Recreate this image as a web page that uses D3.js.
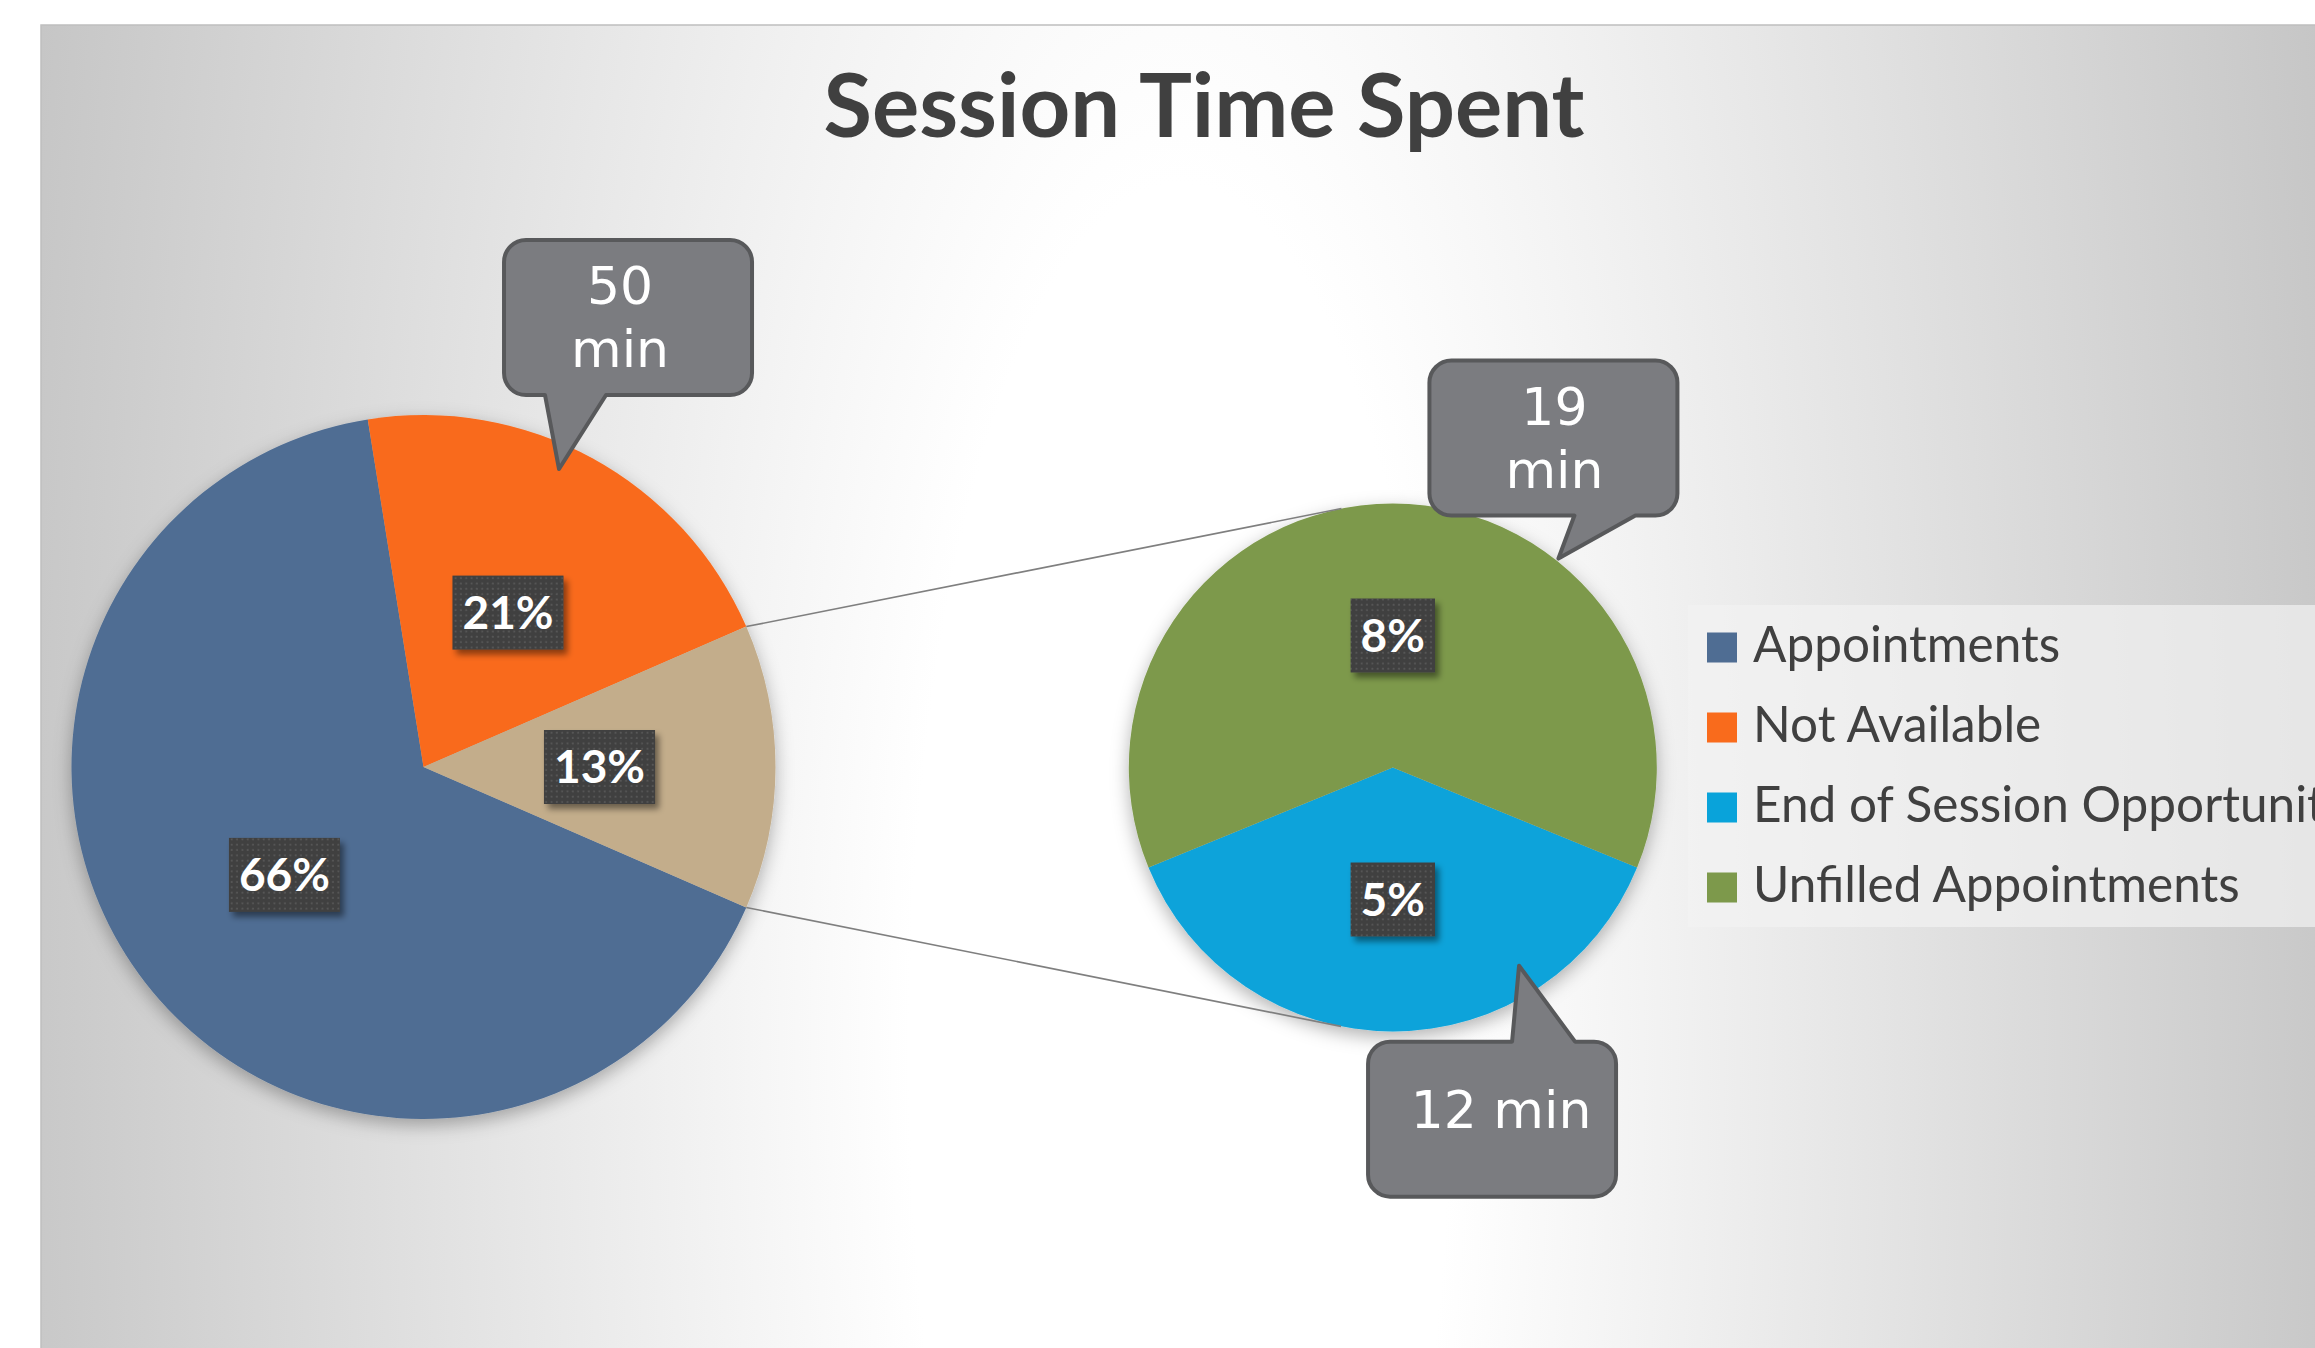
<!DOCTYPE html>
<html><head><meta charset="utf-8">
<script src="https://cdn.jsdelivr.net/npm/d3@7"></script>
<style>html,body{margin:0;padding:0;background:#fff;overflow:hidden}</style>
</head><body>
<svg id="c" width="2315" height="1348"></svg>
<script>
// ---- data ----
const title = "Session Time Spent";
const categories = ["Appointments", "Not Available", "End of Session Opportunity", "Unfilled Appointments"];
const minutes = [157, 50, 11.7, 19.4];          // minutes per category
const colors = ["#4F6D93", "#F96B1C", "#09A3DA", "#7D994B"];
const otherColor = "#C3AD8B";
const mainIdx = [0, 1];        // slices in the main pie
const secondIdx = [2, 3];      // slices split into the second pie
const minuteCallouts = [1, 3, 2]; // categories that carry a "min" callout

// ---- layout ----
const W = 2315, H = 1348;
const svg = d3.select("#c");
const defs = svg.append("defs");

const gcx = 1180, gcy = 1050;
const grad = defs.append("radialGradient").attr("id", "bg")
  .attr("gradientUnits", "userSpaceOnUse")
  .attr("cx", gcx).attr("cy", gcy).attr("r", 1230)
  .attr("gradientTransform", `translate(${gcx},${gcy}) scale(1,3.2) translate(${-gcx},${-gcy})`);
grad.append("stop").attr("offset", "0%").attr("stop-color", "#ffffff");
grad.append("stop").attr("offset", "22%").attr("stop-color", "#ffffff");
grad.append("stop").attr("offset", "100%").attr("stop-color", "#c3c3c3");

const ps = defs.append("filter").attr("id", "pieShadow")
  .attr("x", "-20%").attr("y", "-20%").attr("width", "140%").attr("height", "140%");
ps.append("feDropShadow").attr("dx", 0).attr("dy", 6).attr("stdDeviation", 9)
  .attr("flood-color", "#000").attr("flood-opacity", 0.3);

const bs = defs.append("filter").attr("id", "boxShadow")
  .attr("x", "-30%").attr("y", "-30%").attr("width", "160%").attr("height", "160%");
bs.append("feDropShadow").attr("dx", 4).attr("dy", 5).attr("stdDeviation", 3)
  .attr("flood-color", "#000").attr("flood-opacity", 0.45);

const pat = defs.append("pattern").attr("id", "dots").attr("patternUnits", "userSpaceOnUse")
  .attr("width", 5.33).attr("height", 5.33);
pat.append("rect").attr("width", 5.33).attr("height", 5.33).attr("fill", "#404040");
pat.append("rect").attr("x", 1.6).attr("y", 1.6).attr("width", 1.8).attr("height", 1.8).attr("fill", "#585858");

// chart area
svg.append("rect").attr("x", 41).attr("y", 25).attr("width", 2400).attr("height", 1400)
  .attr("fill", "url(#bg)").attr("stroke", "#bfbfbf").attr("stroke-width", 1.5);

// title
svg.append("text").attr("x", 1204).attr("y", 137).attr("text-anchor", "middle")
  .attr("font-family", "Lato").attr("font-weight", 700).attr("font-size", 88.5)
  .attr("fill", "#404040").text(title);

// pies
const L = {cx: 423.5, cy: 767, r: 352};
const R = {cx: 1392.8, cy: 767.5, r: 352 * 0.75};

const total = d3.sum(minutes);
const otherVal = d3.sum(secondIdx, i => minutes[i]);
const mainData = mainIdx.map(i => ({v: minutes[i], color: colors[i], cat: i}))
  .concat([{v: otherVal, color: otherColor, cat: -1}]);
const secData = secondIdx.map(i => ({v: minutes[i], color: colors[i], cat: i}));

const otherAng = 2 * Math.PI * otherVal / total;
const startL = Math.PI / 2 + otherAng / 2;
const pieL = d3.pie().sort(null).value(d => d.v).startAngle(startL).endAngle(startL + 2 * Math.PI);
const arcsL = pieL(mainData);

const firstSecAng = 2 * Math.PI * secData[0].v / otherVal;
const startR = Math.PI - firstSecAng / 2;
const pieR = d3.pie().sort(null).value(d => d.v).startAngle(startR).endAngle(startR + 2 * Math.PI);
const arcsR = pieR(secData);

function drawPie(P, arcs) {
  const g = svg.append("g").attr("transform", `translate(${P.cx},${P.cy})`).attr("filter", "url(#pieShadow)");
  const arc = d3.arc().innerRadius(0).outerRadius(P.r);
  g.selectAll("path").data(arcs).join("path").attr("d", arc).attr("fill", d => d.data.color);
}
drawPie(L, arcsL);
drawPie(R, arcsR);

const polar = (P, a, rr) => [P.cx + rr * Math.sin(a), P.cy - rr * Math.cos(a)];

// series lines (from "other" slice edges, tangent to second pie)
const otherArc = arcsL[2];
function tangent(p, C, r, dir) {
  const dx = p[0] - C.cx, dy = p[1] - C.cy, d = Math.hypot(dx, dy);
  const ux = dx / d, uy = dy / d, phi = Math.acos(r / d) * dir;
  const c = Math.cos(phi), s = Math.sin(phi);
  return [C.cx + r * (c * ux - s * uy), C.cy + r * (s * ux + c * uy)];
}
const pTop = polar(L, otherArc.startAngle, L.r), pBot = polar(L, otherArc.endAngle, L.r);
[[pTop, tangent(pTop, R, R.r, 1)], [pBot, tangent(pBot, R, R.r, -1)]].forEach(([a, b]) => {
  svg.append("line").attr("x1", a[0]).attr("y1", a[1]).attr("x2", b[0]).attr("y2", b[1])
    .attr("stroke", "#7f7f7f").attr("stroke-width", 1.6);
});

// percentage labels
function pctLabels(P, arcs) {
  arcs.forEach(d => {
    const m = (d.startAngle + d.endAngle) / 2;
    const [x, y] = polar(P, m, P.r * 0.5);
    const g = svg.append("g");
    const t = g.append("text").attr("x", x).attr("y", y + 16).attr("text-anchor", "middle")
      .attr("font-family", "Lato").attr("font-weight", 700).attr("font-size", 46)
      .attr("fill", "#fff").text(Math.round(d.data.v / total * 100) + "%");
    const w = t.node().getComputedTextLength() + 20;
    g.insert("rect", "text").attr("x", x - w / 2).attr("y", y - 37).attr("width", w).attr("height", 74)
      .attr("fill", "url(#dots)").attr("filter", "url(#boxShadow)");
  });
}
pctLabels(L, arcsL);
pctLabels(R, arcsR);

// minute callouts
const calloutLayout = [
  {P: L, arcs: arcsL, slice: 1, frac: 0.444, rf: 0.93, box: [-55, -229], base: [-14, 47], side: "bottom", wrap: true, tx: 116, ty: 64},
  {P: R, arcs: arcsR, slice: 1, frac: 0.671, rf: 1.01, box: [-129, -198], base: [16, 77], side: "bottom", wrap: true, tx: 125, ty: 64},
  {P: R, arcs: arcsR, slice: 0, frac: 0.26, rf: 0.89, box: [-151, 76], base: [-7, 56], side: "top", wrap: false, tx: 133, ty: 86}
];
const BW = 248, BH = 155, CR = 22;
calloutLayout.forEach((c, k) => {
  const a = c.arcs[c.slice];
  const ang = a.startAngle + (a.endAngle - a.startAngle) * c.frac;
  const [tx, ty] = polar(c.P, ang, c.P.r * c.rf);
  const x = tx + c.box[0], y = ty + c.box[1], b1 = tx + c.base[0], b2 = tx + c.base[1];
  const p = d3.path();
  p.moveTo(x + CR, y);
  if (c.side === "top") { p.lineTo(b1, y); p.lineTo(tx, ty); p.lineTo(b2, y); }
  p.lineTo(x + BW - CR, y);
  p.arcTo(x + BW, y, x + BW, y + CR, CR);
  p.lineTo(x + BW, y + BH - CR);
  p.arcTo(x + BW, y + BH, x + BW - CR, y + BH, CR);
  if (c.side === "bottom") { p.lineTo(b2, y + BH); p.lineTo(tx, ty); p.lineTo(b1, y + BH); }
  p.lineTo(x + CR, y + BH);
  p.arcTo(x, y + BH, x, y + BH - CR, CR);
  p.lineTo(x, y + CR);
  p.arcTo(x, y, x + CR, y, CR);
  p.closePath();
  svg.append("path").attr("d", p.toString()).attr("fill", "#7B7C80")
    .attr("stroke", "#58595B").attr("stroke-width", 4).attr("stroke-linejoin", "round");
  const v = Math.round(minutes[minuteCallouts[k]]);
  const lines = c.wrap ? [String(v), "min"] : [v + " min"];
  const t = svg.append("text").attr("text-anchor", "middle")
    .attr("font-family", "DejaVu Sans").attr("font-size", 52).attr("fill", "#fff");
  lines.forEach((s, i) => t.append("tspan").attr("x", x + c.tx).attr("y", y + c.ty + i * 63).text(s));
});

// legend
const lg = svg.append("g");
lg.append("rect").attr("x", 1687.5).attr("y", 605).attr("width", 700).attr("height", 322)
  .attr("fill", "#f2f2f2").attr("fill-opacity", 0.7);
categories.forEach((name, i) => {
  const by = 662 + i * 80;
  lg.append("rect").attr("x", 1707).attr("y", by - 29.5).attr("width", 30).attr("height", 30).attr("fill", colors[i]);
  lg.append("text").attr("x", 1753).attr("y", by).attr("font-family", "Lato").attr("font-size", 49.5)
    .attr("fill", "#404040").text(name);
});
</script>
</body></html>
